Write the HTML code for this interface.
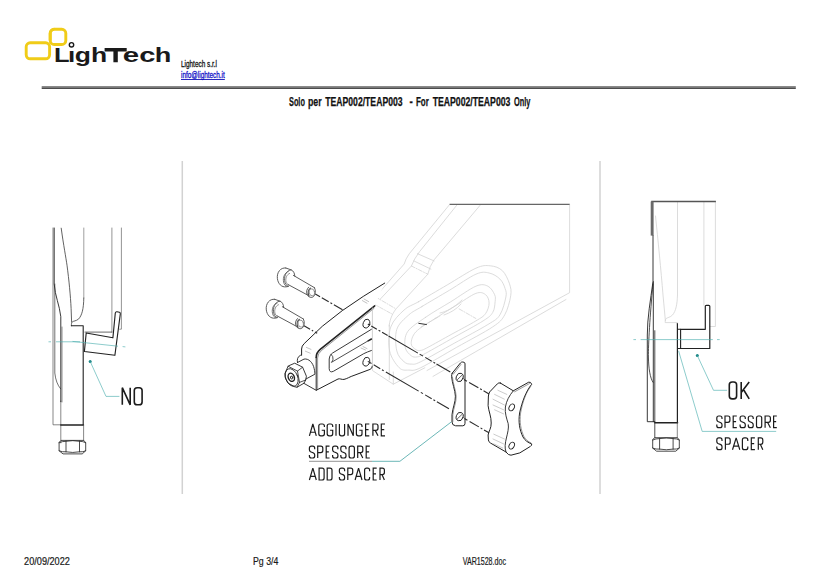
<!DOCTYPE html>
<html>
<head>
<meta charset="utf-8">
<style>
html,body{margin:0;padding:0;background:#fff;}
body{width:832px;height:584px;overflow:hidden;font-family:"Liberation Sans",sans-serif;}
svg{display:block;position:absolute;left:0;top:0;}
text{font-family:"Liberation Sans",sans-serif;}
.k{fill:none;stroke:#222;stroke-width:0.9;stroke-linecap:round;stroke-linejoin:round;}
.g{fill:none;stroke:#777;stroke-width:0.7;stroke-linecap:round;stroke-linejoin:round;}
.f{fill:none;stroke:#d3d3d3;stroke-width:0.8;stroke-linecap:round;stroke-linejoin:round;}
.t{fill:none;stroke:#4fb0b0;stroke-width:0.65;stroke-linecap:butt;}
.d{fill:none;stroke:#333;stroke-width:0.9;stroke-dasharray:7 2.5 1.5 2.5;}
.lab{fill:#1e1e1e;font-weight:400;stroke:#fff;stroke-width:.3;}
</style>
</head>
<body>
<svg width="832" height="584" viewBox="0 0 832 584">
<rect x="0" y="0" width="832" height="584" fill="#ffffff"/>

<!-- ===== HEADER ===== -->
<g id="logo">
  <rect x="50.2" y="29.3" width="15.6" height="15.2" rx="4" ry="4" fill="none" stroke="#f0cc18" stroke-width="2.9"/>
  <rect x="26.2" y="42.8" width="23.4" height="16" rx="4" ry="4" fill="#fff" stroke="#f0cc18" stroke-width="2.9"/>
  <path d="M50.2 40.5 V33.3 a4 4 0 0 1 4 -4" fill="none" stroke="#f0cc18" stroke-width="2.9"/>
  <g font-size="20.8" font-weight="700" fill="#1a1a1a">
    <text x="53.9" y="62.3" textLength="15.6" lengthAdjust="spacingAndGlyphs">L</text>
    <text x="67.9" y="62.3" textLength="7.2" lengthAdjust="spacingAndGlyphs">&#305;</text>
    <text x="74.8" y="62.3" textLength="16.2" lengthAdjust="spacingAndGlyphs">g</text>
    <text x="91.0" y="62.3" textLength="16.2" lengthAdjust="spacingAndGlyphs">h</text>
    <text x="122.8" y="62.3" textLength="16.4" lengthAdjust="spacingAndGlyphs">e</text>
    <text x="139.2" y="62.3" textLength="16.2" lengthAdjust="spacingAndGlyphs">c</text>
    <text x="154.8" y="62.3" textLength="16.6" lengthAdjust="spacingAndGlyphs">h</text>
  </g>
  <path d="M104.6 48 H126.7 V51.4 H117.8 V62.3 H113.4 V51.4 H104.6 Z" fill="#1a1a1a"/>
  <circle cx="71.5" cy="44.8" r="2.2" fill="#fff" stroke="#1a1a1a" stroke-width="1.4"/>
</g>
<text x="181" y="66.6" font-size="9.5" fill="#111" stroke="#111" stroke-width=".3" textLength="36" lengthAdjust="spacingAndGlyphs">Lightech s.r.l</text>
<text x="181" y="77.5" font-size="9.2" fill="#1010c8" stroke="#1010c8" stroke-width=".3" textLength="43.8" lengthAdjust="spacingAndGlyphs">info@lightech.it</text>
<line x1="181" y1="79.5" x2="224.8" y2="79.5" stroke="#1010b8" stroke-width="0.9"/>
<rect x="41.7" y="86" width="754.1" height="2" fill="#8a8a8a"/>
<rect x="41.7" y="87.8" width="754.1" height="1.1" fill="#3a3a3a"/>
<g font-size="12.6" font-weight="700" fill="#111" stroke="#111" stroke-width=".25">
  <text x="289.0" y="106.2" textLength="15.9" lengthAdjust="spacingAndGlyphs">Solo</text>
  <text x="308.0" y="106.2" textLength="13.7" lengthAdjust="spacingAndGlyphs">per</text>
  <text x="325.2" y="106.2" textLength="77.4" lengthAdjust="spacingAndGlyphs">TEAP002/TEAP003</text>
  <text x="409.6" y="106.2" textLength="3.3" lengthAdjust="spacingAndGlyphs">-</text>
  <text x="415.9" y="106.2" textLength="12.9" lengthAdjust="spacingAndGlyphs">For</text>
  <text x="432.7" y="106.2" textLength="77.7" lengthAdjust="spacingAndGlyphs">TEAP002/TEAP003</text>
  <text x="514.0" y="106.2" textLength="16.4" lengthAdjust="spacingAndGlyphs">Only</text>
</g>

<!-- ===== SEPARATORS ===== -->
<line x1="182.3" y1="161" x2="182.3" y2="494" stroke="#d2d2d2" stroke-width="1.5"/>
<line x1="600" y1="161" x2="600" y2="494" stroke="#d2d2d2" stroke-width="1.5"/>

<!-- ===== LEFT DRAWING ===== -->
<g id="left">
  <!-- fork faint/gray lines -->
  <path class="g" style="stroke:#555;stroke-width:.7" d="M53 228 V424.8 H60.8"/>
  <path class="g" style="stroke:#3a3a3a;stroke-width:.8" d="M61.2 228.2 C63.5 245 66 258 67 265.2 C69 280 70.5 296 71.1 308.3 L71.6 322"/>
  <path class="g" d="M83.8 228 V298"/>
  <path class="g" style="stroke:#3a3a3a;stroke-width:.8" d="M83.8 298 C83.6 309 82 315.5 78.4 319.2 C76 321 73.5 321 72.4 321.8 C71.6 322.5 71.4 323.5 71.4 325.8"/>
  <path class="g" style="stroke:#666" d="M111.9 228 V332.1"/>
  <path class="g" style="stroke:#666" d="M121.4 228 V329.2 H119.6"/>
  <path class="g" style="stroke:#444;stroke-width:.8" d="M85 332.1 H111.9"/>
  <path class="g" style="stroke:#333;stroke-width:.7" d="M54.8 284 V373 C55.6 380 57.4 385 60.6 388.8"/>
  <path class="g" style="stroke:#444;stroke-width:.6" d="M62 327 V402"/>
  <path class="g" style="stroke:#555" d="M60.8 401 V442.9"/>
  <!-- dark outline -->
  <path class="k" d="M54.2 228 V284 C55 296 59.5 305 60.8 316.7 V401.7"/>
  <path class="k" style="stroke-width:1.1" d="M71.4 325.8 H83.2 V424.8"/>
  <path class="k" style="stroke-width:1.4" d="M60.8 425 H83.4"/>
  <!-- bracket -->
  <path class="k" style="stroke-width:1.15" d="M86.2 333 L112.9 337.8 L115.3 313 Q115.6 311.6 117 311.8 L119.4 312.3 Q120.5 312.6 120.3 314 L114.9 355.3 L84.4 351.5 Z"/>
  <!-- thread + nut -->
  <path class="g" style="stroke:#555" d="M83.6 425 V440.4"/>
  <path class="g" style="stroke:#2a2a2a;stroke-width:.85" transform="translate(-593.6 2.7)" d="M655 437.7 H677.4 L679.3 440 V448.1 L675.8 451.2 H656.6 L652.7 448.1 V440 Z M659.6 438.3 V449.2 M673.1 438.3 V449.2 M652.7 440 Q656 438.5 659.6 438.6 Q666.3 437.3 673.1 438.6 Q676.5 438.5 679.3 440 M652.7 448.1 Q656 449.5 659.6 449.1 Q666.3 450.4 673.1 449.1 Q676.5 449.5 679.3 448.1"/>
  <!-- teal -->
  <path class="t" d="M48.5 341.8 H51 M56 341.8 H80 M72.5 341.4 L118 346.2 M122.6 346.6 L125.4 346.9"/>
  <circle cx="90.2" cy="361.5" r="1.5" fill="#1a8585"/>
  <path class="t" d="M90.2 361.5 L106 396.4 H119.4"/>
  <g id="lab-NO"><path d="M122.30 404.80V387.70L130.20 404.80V387.70M137.18 387.70H139.22Q142.10 387.70 142.10 390.58V401.92Q142.10 404.80 139.22 404.80H137.18Q134.30 404.80 134.30 401.92V390.58Q134.30 387.70 137.18 387.70Z" fill="none" stroke="#1c1c1c" stroke-width="1.60" stroke-linecap="butt" stroke-linejoin="miter" stroke-miterlimit="2"/></g>
</g>

<!-- ===== CENTER DRAWING ===== -->
<g id="center">
  <g id="swing">
  <!-- arm top face lines -->
  <path class="f" d="M449.4 204.8 L409.3 253.7 Q405.5 259 404.2 264 L375.4 296.8"/>
  <path class="f" d="M456.6 205.4 L419.6 251.6 Q414 259 411.4 266 L380 299.4"/>
  <path class="f" d="M480 205.4 L434 259.9 Q429.5 266.5 427.8 274.2 L396 308.9 C391.5 315 389.5 321 389.2 326"/>
  <path class="f" d="M417.5 253.7 L434 260.9 M413.8 260.9 L430.9 269.1"/>
  <path class="f" style="stroke-dasharray:4 1.5 1 1.5" d="M411.4 266 L427.8 274.2 M375.4 296.8 L396 308.9 M372.7 303.4 L392 314"/>
  <!-- end face -->
  <path class="f" d="M372.4 303 V370.5 L393.3 384.2 L424.8 367.8"/>
  <path class="f" d="M389.3 325 V379.5"/>
  <path class="f" d="M393.3 384.2 V372"/>
  <!-- right side -->
  <path class="f" d="M569.6 204.2 V292.7 L427 370.5"/>
  <path class="f" d="M566 299.5 L433 376.4"/>
  <!-- rings -->
  <path class="f" d="M418.4 301.8 C425.6 297.6 437.5 290.6 447.1 285.0 C456.7 279.4 468.7 271.4 475.9 268.2 C483.1 265.0 485.9 265.4 490.3 265.8 C494.7 266.2 499.1 267.6 502.3 270.6 C505.5 273.6 508.1 279.6 509.5 283.8 C510.9 288.0 511.5 290.6 510.7 295.8 C509.9 301.0 507.7 309.7 504.7 314.9 C501.7 320.1 500.7 321.5 492.7 326.9 C484.7 332.3 468.7 340.5 456.7 347.3 C444.7 354.1 428.7 363.9 420.8 367.7 C412.8 371.5 412.4 370.1 408.8 370.1 C405.2 370.1 402.4 370.9 399.2 367.7 C396.0 364.5 391.0 357.7 389.6 350.9 C388.2 344.1 388.4 333.7 390.8 326.9 C393.2 320.1 399.4 314.3 404.0 310.1 C408.6 305.9 411.2 305.9 418.4 301.8Z"/>
  <path class="f" d="M422.0 306.5 C428.7 302.4 440.5 295.6 449.5 290.2 C458.5 284.8 469.3 277.1 475.9 274.2 C482.5 271.3 485.1 272.2 489.1 273.0 C493.1 273.8 497.2 276.4 499.9 279.0 C502.6 281.6 504.2 285.6 505.1 288.6 C506.1 291.6 506.7 292.6 505.9 297.0 C505.0 301.4 502.9 310.3 499.9 314.9 C496.9 319.5 495.5 319.8 487.9 324.5 C480.3 329.2 465.5 337.0 454.3 343.2 C443.1 349.4 428.0 358.2 420.8 361.7 C413.6 365.2 414.0 364.1 411.2 364.1 C408.4 364.1 406.4 363.9 404.0 361.7 C401.6 359.5 398.0 356.3 396.8 350.9 C395.6 345.5 394.8 335.3 396.8 329.3 C398.8 323.3 404.6 318.7 408.8 314.9 C413.0 311.1 415.2 310.7 422.0 306.5Z"/>
  <path class="f" d="M425.6 317.3 C432.7 312.3 442.3 306.9 450.7 301.8 C459.1 296.6 469.7 288.8 475.9 286.2 C482.1 283.6 484.8 284.8 487.9 286.2 C491.0 287.6 493.4 292.0 494.6 294.6 C495.8 297.2 495.4 298.8 495.1 301.8 C494.8 304.7 494.7 309.3 492.7 312.5 C490.7 315.7 489.5 316.8 483.1 320.9 C476.7 325.0 463.9 331.8 454.3 337.2 C444.7 342.6 431.7 350.0 425.6 353.3 C419.4 356.6 419.6 356.5 417.2 356.9 C414.8 357.3 413.2 357.3 411.2 355.7 C409.2 354.1 405.8 351.3 405.2 347.3 C404.6 343.3 404.2 336.7 407.6 331.7 C411.0 326.7 418.4 322.3 425.6 317.3Z"/>
  <path class="f" d="M435.1 318.5 C441.7 314.2 448.7 310.0 455.5 305.8 C462.3 301.6 470.9 295.2 475.9 293.4 C480.9 291.5 483.3 293.0 485.5 294.6 C487.7 296.2 489.1 299.8 489.1 303.0 C489.1 306.1 487.7 310.7 485.5 313.7 C483.3 316.7 481.5 317.5 475.9 320.9 C470.3 324.3 459.9 329.7 451.9 334.1 C443.9 338.5 433.1 344.6 428.0 347.3 C422.8 350.0 422.8 350.0 420.8 350.4 C418.8 350.8 417.6 350.8 416.0 349.7 C414.4 348.6 411.2 346.7 411.2 343.7 C411.2 340.7 412.0 335.9 416.0 331.7 C420.0 327.5 428.5 322.8 435.1 318.5Z"/>
  <path class="f" style="stroke-dasharray:4 1.5 1 1.5" d="M459.1 308.9 L475.9 318.5 M421 327 L440 316"/>
  <path class="f" d="M440 313 C446 312 455 307 462 300 M444 315 C450 313 457 309 461 304"/>
  <path d="M418.4 323.3 L426.8 324.6" stroke="#333" stroke-width="1" fill="none"/>
  <!-- top dark line -->
  <path d="M449.6 204.3 H569.6" stroke="#666" stroke-width="1.3" fill="none"/>
</g>
  <!-- bolts -->
  <g id="bolt" class="g" style="stroke:#4a4a4a;stroke-width:.9">
    <path d="M285.8 268 C280.5 267.2 276.6 272.5 277.4 278.6 C278 283.6 281.5 287.6 286.4 286.8 L288.4 286.3" fill="#fff"/>
    <path d="M285.8 268 L291.2 269.9 C293.4 270.9 294.6 273 294.8 276"/>
    <path d="M288.3 271.6 C284.6 272.6 282.6 277.6 283.6 282 C284.2 284.6 285.4 286.2 287 286.6" style="stroke:#666"/>
    <path d="M291.2 269.9 C287.5 269.6 284 274.5 284.6 280.5 C285 283.8 286.4 285.8 288.4 286.3" style="stroke:#555"/>
    <path d="M289.6 273.4 C286.6 274.4 285.3 278.4 286 281.6 C286.4 283.4 287.2 284.3 288.2 284.6" style="stroke:#666;stroke-width:.7"/>
    <path d="M293.4 275.4 L314.5 287.7 M288.2 284.6 L307.3 294.9"/>
    <path d="M314.5 287.7 C316 290.5 315.6 294.6 313.5 296.6 C311.5 298.2 308.6 297.2 307.3 294.9 C306 292.4 306.6 289 308.6 287.2" />
    <path d="M310.4 288.2 C308.3 289.6 307.6 293 309 296" style="stroke-width:1.3"/>
    <ellipse cx="311.9" cy="292.3" rx="2.7" ry="3.6" transform="rotate(-15 311.9 292.3)" style="stroke:#777;stroke-width:.7"/>
  </g>
  <use href="#bolt" transform="translate(-11.1 31.3)"/>
  <g id="bracket">
    <!-- body fill to hide lines behind -->
    <path d="M302.6 346.5 Q322 327 342.2 310.7 T384.7 283.1 L374.7 305.9 L372.4 367.2 L316.2 390.2 L303.2 383.3 L301.6 350 Z" fill="#fff" stroke="none"/>
    <!-- top outer edge -->
    <path class="k" style="stroke-width:1" d="M384.7 283.1 Q363 296 342.2 310.7 T304.2 343.6 Q301.6 346 301.6 349 V355"/>
    <!-- front face top edge thick + thin -->
    <path class="k" style="stroke-width:1.6" d="M374.7 305.9 L320.5 349.2 Q316.2 352.6 316.2 357.5"/>
    <path class="k" style="stroke-width:.6;stroke:#555" d="M374 308.4 L321.6 350.4 Q317.6 353.6 317.6 358 V388.5"/>
    <!-- front face left edge, bottom edge -->
    <path class="k" style="stroke-width:1" d="M316.2 357.5 V390.3 L338 379 C340 378.2 341.6 379.8 344 379.4 C347 378.8 350 376.6 354 375.4 L370 369.4 Q372.4 368.4 372.4 366"/>
    <!-- end face bottom -->
    <!-- right edge (faint) -->
    <path class="f" style="stroke:#c4c4c4" d="M372.4 308 V366"/>
    <!-- hatch marks on rounded corner -->
    <path class="g" style="stroke:#999;stroke-width:.6" d="M306.4 347.4 L311 349.4 M305.4 351.2 L310.2 353.2 M362.4 300.6 L367 303.2 M364 299 L368.6 301.6"/>
    <!-- holes -->
    <ellipse class="k" cx="366.5" cy="323.6" rx="3.3" ry="4.5" transform="rotate(18 366.5 323.6)" style="stroke-width:.9"/>
    <ellipse class="k" cx="366.4" cy="361.7" rx="3.3" ry="4.5" transform="rotate(18 366.4 361.7)" style="stroke-width:.9"/>
    <!-- slot -->
    <path class="k" style="stroke-width:.9" d="M371.4 329.3 L332.6 353 Q329.2 355 329.2 359 V368.6 Q329.4 373.2 333.4 371.3 L363.7 353.7 Q367 352 371.4 350.5"/>
    <path class="k" style="stroke-width:.8" d="M331 354.2 Q333.6 356.6 333 359.4 Q332.8 361 331.4 362.4 L368.2 340.8"/>
    <path class="k" style="stroke-width:1.5" d="M368.2 340.8 L371.4 339"/>
    <path class="g" style="stroke:#999;stroke-width:.6" d="M361 348 L365.5 350 M363 346.6 L367 348.6"/>
    <!-- boss cylinder -->
    <path class="k" style="stroke-width:.9" d="M297.5 362.5 C296.8 359.6 297.6 356.6 300.5 355.3 L301.6 355"/>
    <path class="k" style="stroke-width:.9" d="M297.5 362.5 L304 359.1 C308.6 358.2 313 362.6 314.2 368.7 C314.8 371.4 314.9 373 314.9 374.2 L306 379" fill="#fff"/>
    <path class="k" style="stroke-width:.9" d="M304 383.4 L316.2 390.3"/>
    <!-- nut -->
    <path class="k" style="stroke-width:.9" fill="#fff" d="M285.1 373.2 L288.2 366 L294.7 363.2 L302.6 367.2 L306.4 376.2 L305.7 380 L304 383.2 L297.1 387.2 L294.7 386.8 L288.2 383.1 L285.5 378.3 Z"/>
    <path class="k" style="stroke-width:.8" d="M288.2 366.3 L297.5 371.1 L302.6 367.2 M297.5 371.1 L299.5 382.4 L305.7 380 M299.5 382.4 L297.1 387.2"/>
    <ellipse class="k" cx="291.7" cy="377.5" rx="6" ry="9.2" transform="rotate(-22 291.7 377.5)" style="stroke-width:.8"/>
    <ellipse class="k" cx="291.3" cy="377.3" rx="3" ry="4.2" transform="rotate(-22 291.3 377.3)" style="stroke-width:1.4"/>
    <ellipse class="k" cx="291.6" cy="377.6" rx="1.1" ry="1.6" transform="rotate(-22 291.6 377.6)" style="stroke-width:.8"/>
  </g>
  <!-- dash-dot axis lines -->
  <g fill="none" stroke="#2c2c2c" stroke-width="1.1">
  <path stroke-dasharray="5.5 2 8 2 2 2 10" d="M315.3 293.9 L343.2 310.1"/>
  <path stroke-dasharray="7 2 1.6 2 4" d="M304 325.7 L317.2 333.3"/>
  <path stroke-dasharray="2.5 1.5 6.5 2 2 2 6.5 1 34 2 4 2.5 7.5 2 2 1.5 16" d="M367.8 323.9 L452.4 373.2"/>
  <path stroke-dasharray="4.3 2.5 7.6 2 2 2.5 38 2.5 2.5 2.5 7.6 2 2 2 14" d="M367.8 361.4 L452 410.6"/>
  <path stroke-dasharray="3.5 2.5 10.7 2 2 2 7" d="M463.9 379.4 L489 393.9"/>
  <path stroke-dasharray="3.5 2.5 10.7 2 2 2 7" d="M464.4 418.5 L489 432.8"/>
  </g>
  <g id="plates">
    <!-- spacer plate -->
    <path class="k" style="stroke-width:1" fill="#fff" d="M452.3 373.1 L460.4 363 Q461.4 361.8 462.8 362 L464 362.3 Q465 362.6 465 363.8 V423.4 Q465 425.8 462.8 425.8 H455.6 Q452 425.4 452 422 V414.7 C452.6 408 455.6 402 455.4 396.2 C455.2 390 452 383 451.6 376.4 Q451.6 374.2 452.3 373.1 Z"/>
    <path class="k" style="stroke-width:.6;stroke:#555" d="M453.3 374.2 L461 364.4 M452.8 421.6 V415 C453.4 408.4 456.4 402.4 456.2 396.4 C456 390.4 452.8 383.4 452.4 376.8"/>
    <ellipse class="k" cx="459.7" cy="377.4" rx="3.4" ry="4.3" transform="rotate(20 459.7 377.4)" style="stroke-width:.9"/>
    <ellipse class="k" cx="459.7" cy="416.6" rx="3.4" ry="4.3" transform="rotate(20 459.7 416.6)" style="stroke-width:.9"/>
    <path class="k" style="stroke-width:.7" d="M457.4 379.6 L462 375.2 M457.4 418.8 L462 414.4"/>
    <!-- slider -->
    <path class="k" style="stroke-width:1" fill="#fff" d="M500.3 383 L513.3 390.8 L528.7 382.2 Q530.8 381.6 531.7 384.3 C526 391 522 402 519.6 413 C518.2 422 519.6 430 523 437 C525 440.6 528 442.6 531.7 443.9 Q532 445.4 530.4 446.4 L519.8 452.9 L511 455.2 Q508.4 455.4 506 452 L490.6 443.1 Q488.4 441.8 488.4 439.9 L488.1 435 C488.8 431 491.4 428 491.2 423 C491.4 417 488.6 411 488.1 405.7 L488.4 396 Q488.8 393.4 489.7 391.9 L497.4 383.8 Q498.6 382.4 500.3 383 Z"/>
    <path class="k" style="stroke-width:.9" d="M513.3 390.8 C509 396 506.4 401 505.4 407 C504.6 413 506.8 419 508.2 423.6 C509 428 507.6 433 506.4 438 C505.2 443 504.4 448 506 452"/>
    <path class="k" style="stroke-width:.6;stroke:#555" d="M514.6 391.8 L529.4 383.6"/>
    <path class="k" style="stroke-width:.6;stroke:#555" d="M530.6 386.6 C525.6 393 522.4 403 520.6 413 C519.4 422 520.8 430 524 436.6 C526 440 528.4 441.8 530.8 442.8"/>
    <ellipse class="k" cx="511.7" cy="407.4" rx="2.5" ry="3.6" transform="rotate(28 511.7 407.4)" style="stroke-width:.9"/>
    <ellipse class="k" cx="511.7" cy="445.6" rx="2.5" ry="3.6" transform="rotate(28 511.7 445.6)" style="stroke-width:.9"/>
    <path class="g" style="stroke:#aaa;stroke-width:.6" d="M497.9 390.3 L506.8 394.4 M494.6 394.4 L504.4 399.2 M493 399.2 L504.4 405 M493 405 L503.6 409.8 M494.6 409.8 L503.6 413.9 M493.8 434.2 L504.4 439 M493 439 L503.6 443.9 M493.8 443.9 L502.7 448"/>
  </g>
  <!-- label -->
  <path d="M309 461.3 H372" stroke="#777" stroke-width=".8" fill="none"/>
  <path class="t" style="stroke:#45a5a5;stroke-width:.8" d="M372 461.3 H399.9 L451.2 422"/>
  <g id="lab-AGG"><path d="M309.40 435.80L312.85 424.00L316.30 435.80M310.57 432.26H315.13M324.40 427.10V426.00Q324.40 424.00 322.40 424.00H320.80Q318.80 424.00 318.80 426.00V433.80Q318.80 435.80 320.80 435.80H322.40Q324.40 435.80 324.40 433.80V430.25H321.71M332.70 427.10V426.00Q332.70 424.00 330.70 424.00H329.20Q327.20 424.00 327.20 426.00V433.80Q327.20 435.80 329.20 435.80H330.70Q332.70 435.80 332.70 433.80V430.25H330.06M336.00 424.00V435.80M339.40 424.00V433.80Q339.40 435.80 341.40 435.80H342.60Q344.60 435.80 344.60 433.80V424.00M348.00 435.80V424.00L353.30 435.80V424.00M362.00 427.10V426.00Q362.00 424.00 360.00 424.00H358.40Q356.40 424.00 356.40 426.00V433.80Q356.40 435.80 358.40 435.80H360.00Q362.00 435.80 362.00 433.80V430.25H359.31M369.30 424.00H365.60V435.80H369.30M365.60 429.66H368.56M372.90 435.80V424.00H376.00Q378.00 424.00 378.00 426.00V428.37Q378.00 430.37 376.00 430.37H372.90M375.20 430.37L378.00 435.80M385.00 424.00H381.30V435.80H385.00M381.30 429.66H384.26" fill="none" stroke="#1c1c1c" stroke-width="1.20" stroke-linecap="butt" stroke-linejoin="miter" stroke-miterlimit="2"/></g>
  <g id="lab-SPE1"><path d="M314.70 449.30V448.20Q314.70 446.20 312.70 446.20H311.40Q309.40 446.20 309.40 448.20V449.74Q309.40 451.04 310.57 451.75L313.53 452.93Q314.70 453.63 314.70 454.93V456.00Q314.70 458.00 312.70 458.00H311.40Q309.40 458.00 309.40 456.00V454.90M317.70 458.00V446.20H320.80Q322.80 446.20 322.80 448.20V450.57Q322.80 452.57 320.80 452.57H317.70M329.50 446.20H326.20V458.00H329.50M326.20 451.86H328.84M337.90 449.30V448.20Q337.90 446.20 335.90 446.20H334.60Q332.60 446.20 332.60 448.20V449.74Q332.60 451.04 333.77 451.75L336.73 452.93Q337.90 453.63 337.90 454.93V456.00Q337.90 458.00 335.90 458.00H334.60Q332.60 458.00 332.60 456.00V454.90M346.00 449.30V448.20Q346.00 446.20 344.00 446.20H342.80Q340.80 446.20 340.80 448.20V449.74Q340.80 451.04 341.94 451.75L344.86 452.93Q346.00 453.63 346.00 454.93V456.00Q346.00 458.00 344.00 458.00H342.80Q340.80 458.00 340.80 456.00V454.90M351.10 446.20H352.40Q354.40 446.20 354.40 448.20V456.00Q354.40 458.00 352.40 458.00H351.10Q349.10 458.00 349.10 456.00V448.20Q349.10 446.20 351.10 446.20ZM357.70 458.00V446.20H360.80Q362.80 446.20 362.80 448.20V450.57Q362.80 452.57 360.80 452.57H357.70M360.00 452.57L362.80 458.00M369.80 446.20H366.20V458.00H369.80M366.20 451.86H369.08" fill="none" stroke="#1c1c1c" stroke-width="1.20" stroke-linecap="butt" stroke-linejoin="miter" stroke-miterlimit="2"/></g>
  <g id="lab-ADD"><path d="M309.40 480.00L312.85 468.10L316.30 480.00M310.57 476.43H315.13M319.10 468.10H322.08Q324.10 468.10 324.10 470.12V477.98Q324.10 480.00 322.08 480.00H319.10ZM327.20 468.10H329.98Q332.00 468.10 332.00 470.12V477.98Q332.00 480.00 329.98 480.00H327.20ZM344.60 471.22V470.12Q344.60 468.10 342.58 468.10H341.42Q339.40 468.10 339.40 470.12V471.67Q339.40 472.98 340.54 473.69L343.46 474.88Q344.60 475.60 344.60 476.91V477.98Q344.60 480.00 342.58 480.00H341.42Q339.40 480.00 339.40 477.98V476.88M347.80 480.00V468.10H350.68Q352.70 468.10 352.70 470.12V472.51Q352.70 474.53 350.68 474.53H347.80M355.10 480.00L358.55 468.10L362.00 480.00M356.27 476.43H360.83M369.60 471.22V470.12Q369.60 468.10 367.58 468.10H366.62Q364.60 468.10 364.60 470.12V477.98Q364.60 480.00 366.62 480.00H367.58Q369.60 480.00 369.60 477.98V476.88M376.70 468.10H373.20V480.00H376.70M373.20 473.81H376.00M380.00 480.00V468.10H382.38Q384.40 468.10 384.40 470.12V472.51Q384.40 474.53 382.38 474.53H380.00M381.98 474.53L384.40 480.00" fill="none" stroke="#1c1c1c" stroke-width="1.20" stroke-linecap="butt" stroke-linejoin="miter" stroke-miterlimit="2"/></g>
</g>

<!-- ===== RIGHT DRAWING ===== -->
<g id="right">
  <!-- faint fork -->
  <path class="f" d="M677.5 202 V295 C677.2 304 676 311 672.5 315 C670 317.5 667.5 317.5 666.2 318.5 C665.4 319.3 665.2 320.5 665.2 322.6 H677.4"/>
  <path class="f" d="M655.5 216 C658 240 661 270 663 295 L665.4 320.7"/>
  <path class="f" d="M703.9 202 V305.3"/>
  <path class="f" d="M715.4 202 V326.5 H710"/>
  <!-- top + left thick strip -->
  <path d="M651.2 201.5 H715.9" stroke="#555" stroke-width="1.6" fill="none"/>
  <rect x="650.7" y="201.5" width="2.9" height="34.1" fill="#6a6a6a"/>
  <!-- left outline -->
  <path class="k" d="M653 235.6 V281.6 C650.5 300 647.3 318 647.3 335 V421.7 H654.8"/>
  <path class="k" style="stroke-width:.8" d="M653 284 C650 315 648.2 345 648.4 357 C648.6 368 650 378 653 382.3"/>
  <path class="k" d="M653.3 281.6 V421.7"/>
  <path class="k" style="stroke-width:.8" d="M654.8 330.7 V437.9"/>
  <path class="k" style="stroke-width:1.2" d="M677.4 323.5 V422.7"/>
  <path class="k" style="stroke-width:1.4" d="M654.8 422.7 H677.6"/>
  <!-- spacer + bracket -->
  <path class="k" style="stroke-width:1.1" d="M677.6 329.3 H680.6 V348.5 H677.6"/>
  <path class="k" style="stroke-width:1.2" d="M680.6 329.3 H705.3 V306.3 Q705.3 305.3 706.3 305.3 H708.8 Q709.8 305.3 709.8 306.3 V348.5 H680.6"/>
  <!-- thread + nut -->
  <path class="g" style="stroke:#555" d="M677.3 422.7 V437.9"/>
  <path id="nutR" class="g" style="stroke:#2a2a2a;stroke-width:.85" d="M655 437.7 H677.4 L679.3 440 V448.1 L675.8 451.2 H656.6 L652.7 448.1 V440 Z M659.6 438.3 V449.2 M673.1 438.3 V449.2 M652.7 440 Q656 438.5 659.6 438.6 Q666.3 437.3 673.1 438.6 Q676.5 438.5 679.3 440 M652.7 448.1 Q656 449.5 659.6 449.1 Q666.3 450.4 673.1 449.1 Q676.5 449.5 679.3 448.1"/>
  <!-- teal -->
  <path class="t" d="M640.6 339.6 H712.8 M633.4 339.6 H636 M717 339.6 H719.7"/>
  <circle cx="697.3" cy="355.5" r="1.5" fill="#1a8585"/>
  <path class="t" d="M697.3 355.5 L713.5 390.3 H727.1"/>
  <path class="t" d="M678.6 350.9 L702.2 431.4 H776.2"/>
  <g id="lab-OK"><path d="M732.15 382.00H733.75Q736.60 382.00 736.60 384.85V396.05Q736.60 398.90 733.75 398.90H732.15Q729.30 398.90 729.30 396.05V384.85Q729.30 382.00 732.15 382.00ZM741.20 382.00V398.90M749.20 382.00L741.20 392.48M743.60 389.77L749.20 398.90" fill="none" stroke="#1c1c1c" stroke-width="1.60" stroke-linecap="butt" stroke-linejoin="miter" stroke-miterlimit="2"/></g>
  <g id="lab-SPE2"><path d="M722.00 419.08V417.98Q722.00 416.00 720.02 416.00H718.78Q716.80 416.00 716.80 417.98V419.51Q716.80 420.80 717.94 421.50L720.86 422.67Q722.00 423.37 722.00 424.66V425.72Q722.00 427.70 720.02 427.70H718.78Q716.80 427.70 716.80 425.72V424.62M725.00 427.70V416.00H727.92Q729.90 416.00 729.90 417.98V420.33Q729.90 422.32 727.92 422.32H725.00M736.80 416.00H733.20V427.70H736.80M733.20 421.62H736.08M745.30 419.08V417.98Q745.30 416.00 743.32 416.00H742.08Q740.10 416.00 740.10 417.98V419.51Q740.10 420.80 741.24 421.50L744.16 422.67Q745.30 423.37 745.30 424.66V425.72Q745.30 427.70 743.32 427.70H742.08Q740.10 427.70 740.10 425.72V424.62M753.20 419.08V417.98Q753.20 416.00 751.22 416.00H750.28Q748.30 416.00 748.30 417.98V419.51Q748.30 420.80 749.38 421.50L752.12 422.67Q753.20 423.37 753.20 424.66V425.72Q753.20 427.70 751.22 427.70H750.28Q748.30 427.70 748.30 425.72V424.62M758.48 416.00H759.72Q761.70 416.00 761.70 417.98V425.72Q761.70 427.70 759.72 427.70H758.48Q756.50 427.70 756.50 425.72V417.98Q756.50 416.00 758.48 416.00ZM765.10 427.70V416.00H768.42Q770.40 416.00 770.40 417.98V420.33Q770.40 422.32 768.42 422.32H765.10M767.49 422.32L770.40 427.70M776.80 416.00H773.60V427.70H776.80M773.60 421.62H776.16" fill="none" stroke="#1c1c1c" stroke-width="1.20" stroke-linecap="butt" stroke-linejoin="miter" stroke-miterlimit="2"/></g>
  <g id="lab-SPA"><path d="M722.00 441.00V439.90Q722.00 437.90 720.00 437.90H718.80Q716.80 437.90 716.80 439.90V441.44Q716.80 442.74 717.94 443.45L720.86 444.63Q722.00 445.33 722.00 446.63V447.70Q722.00 449.70 720.00 449.70H718.80Q716.80 449.70 716.80 447.70V446.60M725.40 449.70V437.90H728.20Q730.20 437.90 730.20 439.90V442.27Q730.20 444.27 728.20 444.27H725.40M732.50 449.70L736.15 437.90L739.80 449.70M733.74 446.16H738.56M747.80 441.00V439.90Q747.80 437.90 745.80 437.90H744.40Q742.40 437.90 742.40 439.90V447.70Q742.40 449.70 744.40 449.70H745.80Q747.80 449.70 747.80 447.70V446.60M754.90 437.90H751.30V449.70H754.90M751.30 443.56H754.18M758.30 449.70V437.90H760.80Q762.80 437.90 762.80 439.90V442.27Q762.80 444.27 760.80 444.27H758.30M760.33 444.27L762.80 449.70" fill="none" stroke="#1c1c1c" stroke-width="1.20" stroke-linecap="butt" stroke-linejoin="miter" stroke-miterlimit="2"/></g>
</g>

<!-- ===== FOOTER ===== -->
<text x="24.1" y="564.6" font-size="10.2" fill="#1a1a1a" stroke="#1a1a1a" stroke-width=".2" textLength="45.8" lengthAdjust="spacingAndGlyphs">20/09/2022</text>
<text x="253" y="564.6" font-size="10.2" fill="#1a1a1a" stroke="#1a1a1a" stroke-width=".2" textLength="25.3" lengthAdjust="spacingAndGlyphs">Pg 3/4</text>
<text x="462.7" y="564.8" font-size="10.2" fill="#1a1a1a" stroke="#1a1a1a" stroke-width=".2" textLength="43.3" lengthAdjust="spacingAndGlyphs">VAR1528.doc</text>
</svg>
</body>
</html>
